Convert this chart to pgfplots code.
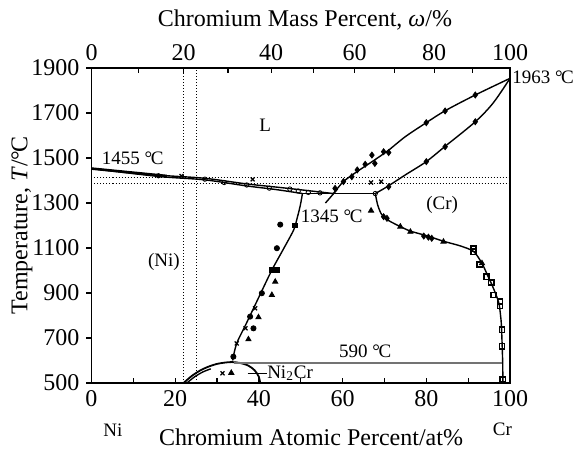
\documentclass[border=0pt]{standalone}
\usepackage{fontspec}
\setmainfont{Liberation Serif}
\newcommand{\dC}{{°\kern-0.08em C}}
\usepackage{pgfplots}
\pgfplotsset{compat=1.18}
\definecolor{linegray}{gray}{0.45}
\tikzset{inner/.style={font=\fontsize{9.5}{11}\selectfont, inner sep=0pt}}

\begin{document}
\begin{tikzpicture}[font=\fontsize{12}{14}\selectfont]
\pgfplotsset{
  dl/.style={black, line width=0.7pt, mark=none},
  mk/.style={only marks, black, mark size=1.3pt},
}
\begin{axis}[name=main, scale only axis, width=209.25pt, height=157.5pt,
  xmin=0, xmax=100, ymin=500, ymax=1900, clip=false,
  xtick={0,10,...,100}, xticklabels={0,,20,,40,,60,,80,,100},
  ytick={500,700,900,1100,1300,1500,1700,1900},
  yticklabels={500,700,900,1100,1300,1500,1700,1900},
  xtick pos=left, ytick pos=left,
  xtick align=inside, ytick align=outside,
  major tick length=2.5pt,
  tick style={black, line width=0.6pt},
  axis line style={line width=0.8pt},
  /pgf/number format/assume math mode=true,
  xlabel={Chromium Atomic Percent/at\%},
  xlabel style={at={(axis description cs:0.5245,-0.171)}, anchor=center},
  ylabel={Temperature, \textit{T}/\dC},
  ylabel style={at={(axis description cs:-0.166,0.5)}, anchor=center},
]
% dotted reference lines
\addplot[black, densely dotted, line width=0.5pt] coordinates {(0,1413)(100,1413)};
\addplot[black, densely dotted, line width=0.5pt] coordinates {(0,1388)(100,1388)};
\addplot[black, densely dotted, line width=0.5pt] coordinates {(22.0,500)(22.0,1900)};
\addplot[black, densely dotted, line width=0.5pt] coordinates {(25.0,500)(25.0,1900)};
% Ni-side liquidus / solidus
\addplot[dl, smooth] coordinates {(0,1453)(16,1424)(27,1410)(37,1385)(47,1365)(57.8,1342)};
\addplot[dl, smooth] coordinates {(0,1453)(16,1418)(27,1403)(37,1376)(44,1360)(50.4,1342)};
\addplot[black, line width=1.3pt] coordinates {(0,1453)(18,1420)};
% eutectic
\addplot[dl] coordinates {(50.4,1342)(67.8,1342)};
\addplot[dl] coordinates {(58.8,1362)(55.9,1300)};
% Cr-side liquidus / solidus
\addplot[dl, smooth] coordinates {(57.8,1342)(60.2,1395)(63.5,1440)(67.7,1492)(71,1535)(75,1595)(80,1657)(84.5,1710)(91.7,1780)(100,1854)};
\addplot[dl, smooth] coordinates {(67.8,1342)(70.6,1372)(75,1425)(80,1484)(84.5,1552)(91.7,1661)(96,1745)(100,1854)};
% solvus lines
\addplot[dl, smooth, tension=0.4] coordinates {(67.8,1342)(68.4,1290)(69.3,1250)(71,1222)(73.8,1195)(76.2,1175)(80,1155)(84.1,1130)(88,1110)(91.3,1085)(93.3,1032)(94.6,980)(95.6,940)(96.6,895)(97.4,850)(97.9,770)(98.1,680)(98.25,590)(98.3,500)};
\addplot[dl, smooth] coordinates {(50.4,1342)(49.9,1290)(49.1,1230)(48.3,1180)(45.7,1090)(43.1,1002)(40,882)(37,765)(34.7,676)(33.7,600)};
% Ni2Cr dome
\addplot[black, line width=0.9pt, smooth] coordinates {(22,500)(24,532)(26,556)(28,573)(30,585)(32,591)(33.6,593)(35.5,589)(37.5,577)(39,556)(40,527)(40.3,500)};
\addplot[dl, smooth] coordinates {(22.8,500)(24.6,527)(26.6,549)(28.5,563)};
% 590 line and leader
\addplot[linegray, line width=1pt] coordinates {(34,588)(98.1,588)};
\addplot[dl] coordinates {(37.3,543)(41.9,543)};
% markers
\addplot[mk, mark=o, mark size=1.1pt] coordinates {(16,1421)(27.1,1406)(31.7,1391)(37.1,1380)(42.5,1366)(47.4,1362)(49.4,1353)(51.8,1347)(54.6,1345)(67.8,1342)};
\addplot[mk, mark=x, mark size=1.4pt, line width=0.6pt] coordinates {(21.5,1420)(38.5,1405)(66.8,1391)(69.2,1395)(34.7,676)(31.3,543)(36.8,743)(39.1,832)};
\addplot[mk, mark=*, mark size=1.3pt] coordinates {(45.1,1204)(44.3,1099)(40.7,899)(38.7,743)(33.9,617)(37.9,795)};
\addplot[mk, mark=square*, mark size=1.2pt] coordinates {(48.6,1200)(43.1,1002)(44.3,1002)};
\addplot[mk, mark=triangle*, mark size=1.5pt] coordinates {(43.9,950)(43.1,891)(39.9,792)(37.5,694)(33.4,545)(66.8,1266)(73.8,1195)(76.2,1172)(84.1,1128)(93.3,1032)};
\addplot[mk, mark=square, mark size=1.3pt, line width=0.8pt] coordinates {(91.3,1096)(91.3,1083)(92.8,1027)(94.4,972)(95.5,946)(96.1,891)(97.6,861)(97.6,842)(98.1,736)(98.1,664)(98.3,516)};
\addplot[mk, mark=diamond*, mark size=1.5pt] coordinates {(91.7,1780)(84.5,1709)(80,1657)(69.8,1528)(71,1524)(67,1513)(67.7,1476)(65.4,1472)(63.5,1447)(62.2,1417)(60.2,1395)(58.2,1365)(91.7,1661)(84.5,1550)(80,1484)(71,1372)(69.8,1239)(70.6,1232)(79.4,1153)(80.5,1148)(81.3,1143)};
% labels
\node[inner] at (axis cs:41.5,1647) {L};
\node[inner, anchor=west] at (axis cs:2.4,1499) {1455 \dC};
\node[inner, anchor=west] at (axis cs:100,1858) {\hspace{1pt}1963 \dC};
\node[inner] at (axis cs:17.3,1038) {(Ni)};
\node[inner] at (axis cs:83.8,1291) {(Cr)};
\node[inner] at (axis cs:57.4,1239) {1345 \dC};
\node[inner] at (axis cs:65.4,639) {590 \dC};
\node[inner, anchor=west] at (axis cs:41.9,543) {Ni\textsubscript{2}Cr};
\node[inner] at (axis cs:5.1,291) {Ni};
\node[inner] at (axis cs:98.2,296) {Cr};
\end{axis}
\begin{axis}[scale only axis, width=209.25pt, height=157.5pt,
  at={(main.south west)}, anchor=south west,
  xmin=0, xmax=100, ymin=0, ymax=1,
  axis x line*=top, axis y line=none,
  xtick={0,11.14,22.01,32.60,42.94,53.02,62.87,72.48,81.87,91.04,100},
  xticklabels={0,,20,,40,,60,,80,,100},
  xtick align=inside, major tick length=2.5pt,
  tick style={black, line width=0.6pt},
  axis line style={line width=0.8pt},
  xlabel={Chromium Mass Percent, \textit{ω}/\%},
  xlabel style={at={(axis description cs:0.51,1.152)}, anchor=center},
]
\end{axis}
\pgfresetboundingbox
\path[use as bounding box] ([xshift=-45.75pt,yshift=-32.5pt]main.south west) rectangle ([xshift=35.5pt,yshift=34pt]main.north east);
\end{tikzpicture}
\end{document}
